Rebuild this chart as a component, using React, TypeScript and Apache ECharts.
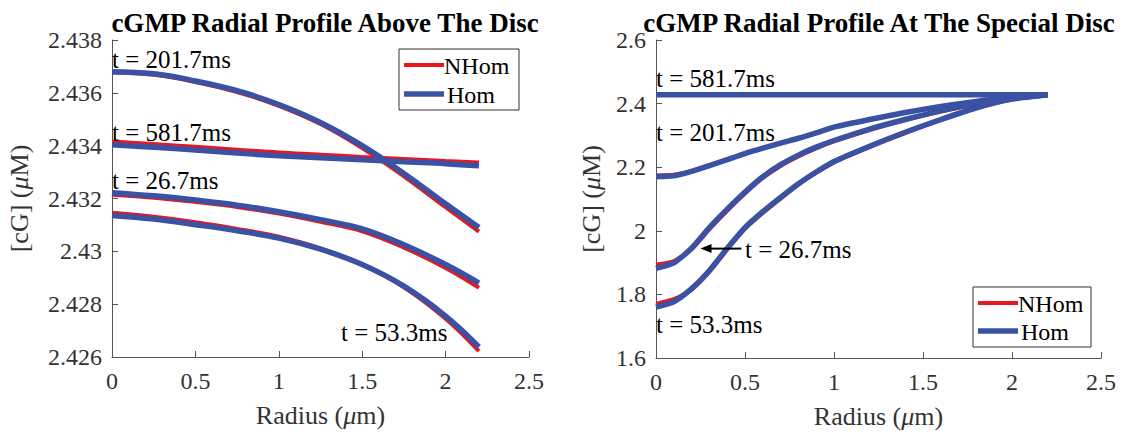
import React, { useEffect, useRef } from "react";
import * as echarts from "echarts";

const FONT = "Liberation Serif";
const RED = "#e8171f";
const BLUE = "#3a52a3";
const AXIS = "#555555";
const LABEL = "#333333";

// ---------- left panel: above the disc ----------
const radiusAbove = [0, 0.25, 0.5, 0.75, 1.0, 1.25, 1.5, 1.75, 2.0, 2.2];
const aboveHom201 = [2.4368, 2.43672, 2.43645, 2.43608, 2.43556, 2.43488, 2.434, 2.43295, 2.4318, 2.4309];
const aboveNHom201 = [2.43677, 2.43668, 2.43641, 2.43603, 2.43551, 2.43482, 2.43391, 2.43284, 2.43167, 2.43075];
const aboveHom581 = [2.43403, 2.43394, 2.43384, 2.43372, 2.43362, 2.43354, 2.43347, 2.43339, 2.43332, 2.43324];
const aboveNHom581 = [2.43416, 2.43406, 2.43396, 2.43385, 2.43374, 2.43366, 2.43357, 2.4335, 2.43342, 2.43336];
const aboveHom26 = [2.43222, 2.4321, 2.43194, 2.43175, 2.4315, 2.4312, 2.43085, 2.43025, 2.4295, 2.4288];
const aboveNHom26 = [2.43214, 2.43203, 2.43187, 2.43168, 2.43143, 2.43112, 2.43076, 2.43014, 2.42937, 2.42862];
const aboveHom53 = [2.43136, 2.43122, 2.43101, 2.43078, 2.4305, 2.43008, 2.4295, 2.42868, 2.42755, 2.42638];
const aboveNHom53 = [2.43146, 2.43131, 2.4311, 2.43085, 2.43055, 2.43011, 2.4295, 2.42864, 2.42745, 2.42622];

// ---------- right panel: at the special disc ----------
const radiusSpecial = [0, 0.1, 0.2, 0.3, 0.4, 0.5, 0.6, 0.7, 0.8, 0.9, 1.0, 1.2, 1.4, 1.6, 1.8, 2.0, 2.2];
const specHom581 = [2.428, 2.428, 2.428, 2.428, 2.428, 2.428, 2.428, 2.428, 2.428, 2.428, 2.428, 2.428, 2.428, 2.428, 2.428, 2.428, 2.428];
const specNHom581 = [2.428, 2.428, 2.428, 2.428, 2.428, 2.428, 2.428, 2.428, 2.428, 2.428, 2.428, 2.428, 2.428, 2.428, 2.428, 2.428, 2.428];
const specHom201 = [2.17, 2.173, 2.187, 2.205, 2.224, 2.243, 2.26, 2.276, 2.291, 2.308, 2.326, 2.35, 2.372, 2.391, 2.407, 2.419, 2.428];
const specNHom201 = [2.174, 2.176, 2.188, 2.205, 2.224, 2.243, 2.26, 2.276, 2.291, 2.308, 2.326, 2.35, 2.372, 2.391, 2.407, 2.419, 2.428];
const specHom26 = [1.882, 1.899, 1.945, 2.01, 2.068, 2.122, 2.17, 2.208, 2.238, 2.263, 2.284, 2.32, 2.35, 2.377, 2.4, 2.417, 2.428];
const specNHom26 = [1.894, 1.905, 1.942, 2.005, 2.063, 2.117, 2.166, 2.204, 2.234, 2.259, 2.281, 2.317, 2.348, 2.375, 2.399, 2.416, 2.428];
const specHom53 = [1.76, 1.777, 1.818, 1.875, 1.945, 2.01, 2.06, 2.105, 2.148, 2.185, 2.218, 2.266, 2.31, 2.35, 2.387, 2.414, 2.428];
const specNHom53 = [1.77, 1.785, 1.815, 1.871, 1.941, 2.006, 2.056, 2.101, 2.145, 2.182, 2.215, 2.263, 2.307, 2.348, 2.385, 2.413, 2.428];

// arrow pointing at the t = 26.7ms curve (data coordinates)
const arrowFromX = 0.48;
const arrowToX = 0.25;
const arrowY = 1.944;

const xTicks = { min: 0, max: 2.5, interval: 0.5 };
const yAbove = { min: 2.426, max: 2.438, interval: 0.002 };
const ySpecial = { min: 1.6, max: 2.6, interval: 0.2 };

const titles = ["cGMP Radial Profile Above The Disc", "cGMP Radial Profile At The Special Disc"];
const legendNames = ["NHom", "Hom"];
const annotations = [
  { text: "t = 201.7ms", x: 112, y: 59 },
  { text: "t = 581.7ms", x: 112, y: 132 },
  { text: "t = 26.7ms", x: 112, y: 180 },
  { text: "t = 53.3ms", x: 341, y: 332 },
  { text: "t = 581.7ms", x: 656, y: 78 },
  { text: "t = 201.7ms", x: 656, y: 132 },
  { text: "t = 26.7ms", x: 745, y: 249 },
  { text: "t = 53.3ms", x: 656, y: 324 },
];
const legendBoxes = [
  { x: 399, y: 49, w: 120, h: 61 },
  { x: 973, y: 287, w: 118, h: 60 },
];

const pairs = (xs: number[], ys: number[]) => xs.map((x, i) => [x, ys[i]]);
const fmt = (v: number) => String(Number(v.toFixed(3)));

export default function App() {
  const ref = useRef<HTMLDivElement>(null);
  useEffect(() => {
    const chart = echarts.init(ref.current!, null, { renderer: "svg" });

    const richName = {
      n: { fontFamily: FONT, fontSize: 26, color: LABEL },
      i: { fontStyle: "italic", fontFamily: FONT, fontSize: 26, color: LABEL },
    };
    const xAxisCommon = (gridIndex: number) => ({
      type: "value",
      gridIndex,
      ...xTicks,
      name: "{n|Radius (}{i|\u03bc}{n|m)}",
      nameLocation: "middle",
      nameGap: 45,
      nameTextStyle: { fontFamily: FONT, fontSize: 26, color: LABEL, rich: richName },
      axisLine: { show: true, lineStyle: { color: AXIS, width: 1 } },
      axisTick: { show: true, inside: true, length: 6, lineStyle: { color: AXIS } },
      axisLabel: { fontFamily: FONT, fontSize: 24, color: LABEL, margin: 12, formatter: fmt },
      splitLine: { show: false },
    });
    const yAxisCommon = (gridIndex: number, r: any, gap: number) => ({
      type: "value",
      gridIndex,
      ...r,
      name: "{n|[cG] (}{i|\u03bc}{n|M)}",
      nameLocation: "middle",
      nameGap: gap,
      nameTextStyle: { fontFamily: FONT, fontSize: 26, color: LABEL, rich: richName },
      axisLine: { show: true, lineStyle: { color: AXIS, width: 1 } },
      axisTick: { show: true, inside: true, length: 6, lineStyle: { color: AXIS } },
      axisLabel: { fontFamily: FONT, fontSize: 24, color: LABEL, margin: 10, formatter: fmt },
      splitLine: { show: false },
    });

    const line = (name: string, idx: number, xs: number[], ys: number[]) => ({
      type: "line",
      name,
      xAxisIndex: idx,
      yAxisIndex: idx,
      data: pairs(xs, ys),
      symbol: "none",
      smooth: idx === 0 ? 0.4 : 0.2,
      lineStyle: {
        color: name === "Hom" ? BLUE : RED,
        width: name === "Hom" ? 5.5 : 4,
      },
      itemStyle: { color: name === "Hom" ? BLUE : RED },
      z: name === "Hom" ? 3 : 2,
    });

    const textEl = (text: string, x: number, y: number, size: number) => ({
      type: "text",
      x,
      y,
      z: 100,
      style: {
        text,
        fill: "#000",
        font: `normal normal ${size}px ${FONT}`,
        fontSize: size,
        fontFamily: FONT,
        textAlign: "left",
        textVerticalAlign: "middle",
      },
    });

    const legendEls: any[] = [];
    legendBoxes.forEach((b) => {
      legendEls.push({
        type: "rect",
        z: 90,
        shape: { x: b.x, y: b.y, width: b.w, height: b.h },
        style: { fill: "#fff", stroke: "#333", lineWidth: 1 },
      });
      const rowY = [b.y + 16, b.y + b.h - 16];
      legendNames.forEach((n, i) => {
        legendEls.push({
          type: "line",
          z: 91,
          shape: { x1: b.x + 5, y1: rowY[i], x2: b.x + 45, y2: rowY[i] },
          style: { stroke: n === "Hom" ? BLUE : RED, lineWidth: n === "Hom" ? 5.5 : 4 },
        });
        legendEls.push({ ...textEl(n, b.x + (n === "Hom" ? 48 : 45), rowY[i] + 1, 24), z: 92 });
      });
    });

    const option: any = {
      animation: false,
      backgroundColor: "#fff",
      textStyle: { fontFamily: FONT },
      title: titles.map((t, i) => ({
        text: t,
        left: i === 0 ? 320 : 874,
        top: 4,
        textAlign: "center",
        textStyle: { fontFamily: FONT, fontSize: 27, fontWeight: "bold", color: "#000" },
      })),
      grid: [
        { left: 112, top: 40, width: 417, height: 317 },
        { left: 656, top: 40, width: 445, height: 318 },
      ],
      xAxis: [xAxisCommon(0), xAxisCommon(1)],
      yAxis: [yAxisCommon(0, yAbove, 80), yAxisCommon(1, ySpecial, 52)],
      series: [
        line("NHom", 0, radiusAbove, aboveNHom201),
        line("Hom", 0, radiusAbove, aboveHom201),
        line("NHom", 0, radiusAbove, aboveNHom581),
        line("Hom", 0, radiusAbove, aboveHom581),
        line("NHom", 0, radiusAbove, aboveNHom26),
        line("Hom", 0, radiusAbove, aboveHom26),
        line("NHom", 0, radiusAbove, aboveNHom53),
        line("Hom", 0, radiusAbove, aboveHom53),
        line("NHom", 1, radiusSpecial, specNHom581),
        line("Hom", 1, radiusSpecial, specHom581),
        line("NHom", 1, radiusSpecial, specNHom201),
        line("Hom", 1, radiusSpecial, specHom201),
        line("NHom", 1, radiusSpecial, specNHom26),
        line("Hom", 1, radiusSpecial, specHom26),
        line("NHom", 1, radiusSpecial, specNHom53),
        line("Hom", 1, radiusSpecial, specHom53),
      ],
    };

    chart.setOption(option);

    const p1 = chart.convertToPixel({ gridIndex: 1 } as any, [arrowFromX, arrowY]) as number[];
    const p2 = chart.convertToPixel({ gridIndex: 1 } as any, [arrowToX, arrowY]) as number[];
    const head = 11;
    const arrowEls = [
      {
        type: "line",
        z: 100,
        shape: { x1: p1[0], y1: p1[1], x2: p2[0] + head - 1, y2: p2[1] },
        style: { stroke: "#000", lineWidth: 2 },
      },
      {
        type: "polygon",
        z: 100,
        shape: {
          points: [
            [p2[0], p2[1]],
            [p2[0] + head, p2[1] - 4.5],
            [p2[0] + head, p2[1] + 4.5],
          ],
        },
        style: { fill: "#000" },
      },
    ];

    chart.setOption({
      graphic: [
        ...annotations.map((a) => textEl(a.text, a.x, a.y, 25)),
        ...legendEls,
        ...arrowEls,
      ],
    });

    return () => chart.dispose();
  }, []);
  return <div ref={ref} style={{ position: "fixed", left: 0, top: 0, width: 1142, height: 434 }} />;
}
